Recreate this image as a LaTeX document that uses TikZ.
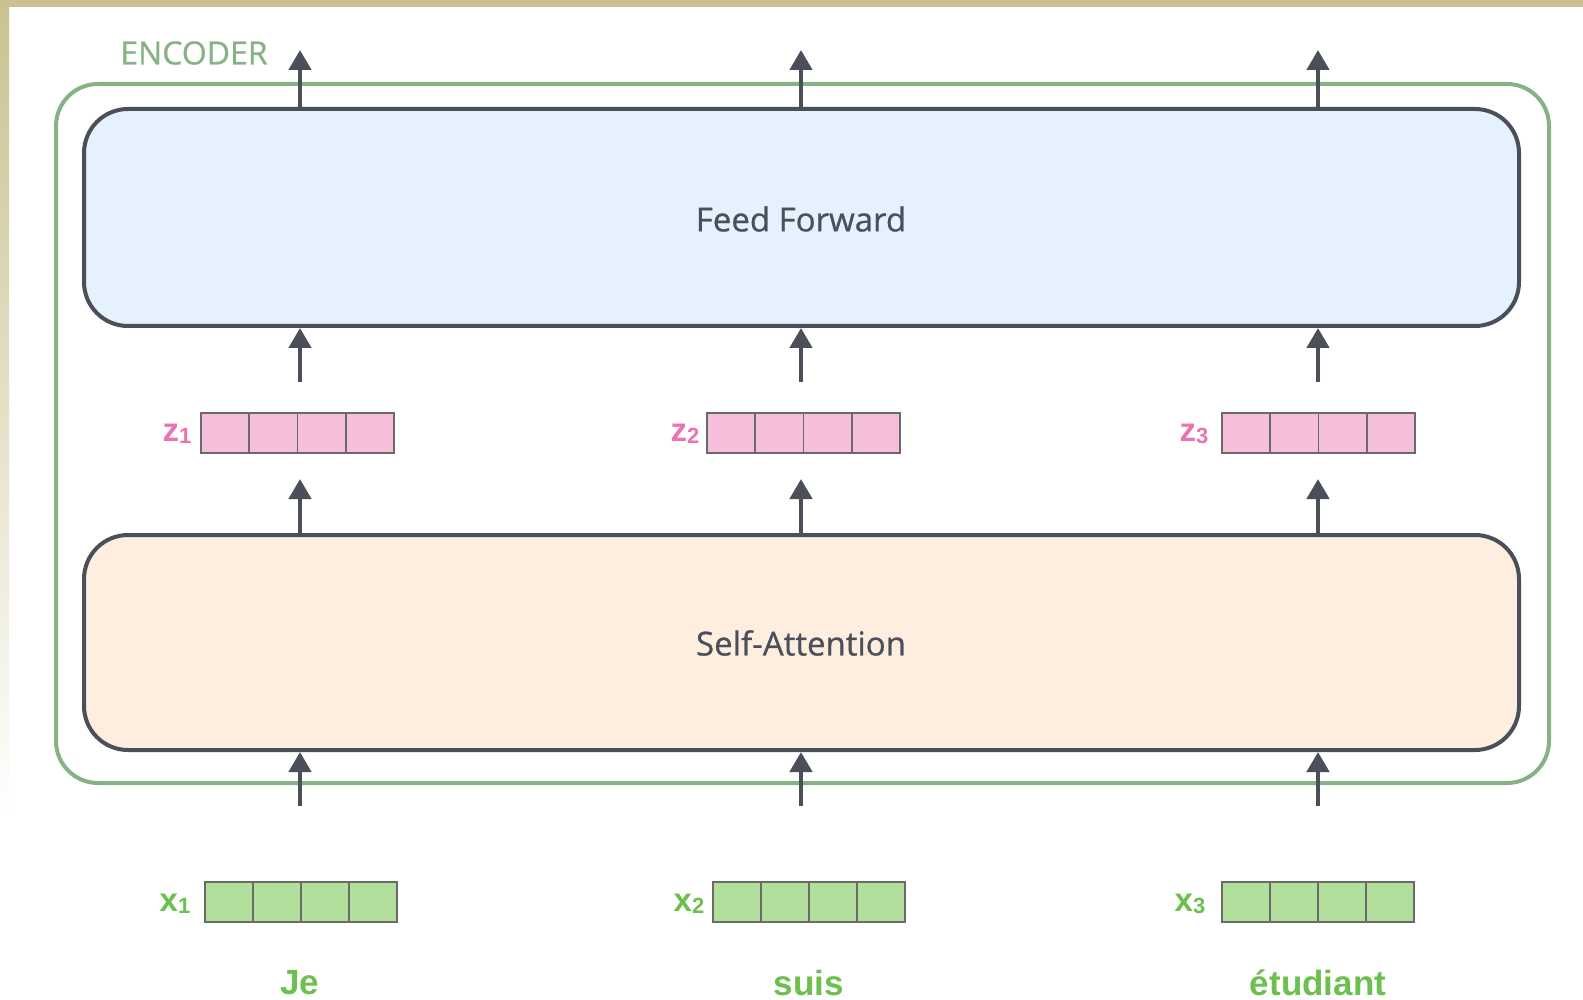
\documentclass[tikz,border=0pt]{standalone}
\usepackage{fontspec}
\setmainfont{Open Sans}
\newfontfamily\boxfont[FakeBold=0.7]{Open Sans}
\newfontfamily\lblfont{Liberation Sans}
\usetikzlibrary{arrows.meta}
\definecolor{khaki}{HTML}{C9C290}
\definecolor{encgreen}{HTML}{86B386}
\definecolor{darkline}{HTML}{4A4F5A}
\definecolor{ffblue}{HTML}{E5F1FD}
\definecolor{sapeach}{HTML}{FEEEE0}
\definecolor{zpink}{HTML}{F5BEDB}
\definecolor{zlabel}{HTML}{EC72B0}
\definecolor{xgreen}{HTML}{B2DE9C}
\definecolor{xlabel}{HTML}{6CC04D}
\definecolor{cellline}{HTML}{6A6A6A}
\tikzset{
  layerbox/.style={draw=darkline, line width=4pt, rounded corners=44pt},
  uparrow/.style={draw=darkline, line width=4.5pt, -{Triangle[length=20pt,width=22pt]}},
  cellz/.style={draw=cellline, line width=1.3pt, fill=zpink, minimum width=48pt, minimum height=40pt, inner sep=0pt},
  cellx/.style={draw=cellline, line width=1.3pt, fill=xgreen, minimum width=48pt, minimum height=40pt, inner sep=0pt},
  zlab/.style={text=zlabel, font=\lblfont\bfseries\fontsize{33}{33}\selectfont},
  xlab/.style={text=xlabel, font=\lblfont\bfseries\fontsize{33}{33}\selectfont},
  word/.style={text=xlabel, font=\lblfont\bfseries\fontsize{35}{36}\selectfont},
  boxtext/.style={text=darkline, font=\boxfont\fontsize{33}{36}\selectfont},
}
\begin{document}
\begin{tikzpicture}[x=1pt,y=-1pt]
\useasboundingbox (0,0) rectangle (1583,1000);
\fill[white] (0,0) rectangle (1583,1000);
% frame bands
\shade[top color=khaki, bottom color=white] (0,0) rectangle (9,820);
\fill[khaki] (0,0) rectangle (1583,7);
% encoder outline
\draw[encgreen, line width=4pt, rounded corners=42pt] (56,84) rectangle (1549,783);
\node[text=encgreen, font=\boxfont\fontsize{32}{33}\selectfont, anchor=center] (enc) at (194,53) {ENCODER};
% layers
\draw[layerbox, fill=ffblue] (84,109) rectangle (1519,326);
\node[boxtext] (ff) at (801,219) {Feed Forward};
\draw[layerbox, fill=sapeach] (84,535) rectangle (1519,750);
\node[boxtext] (sa) at (801,643) {Self-Attention};
% coordinates for arrows
\foreach \i/\cx in {1/300, 2/801, 3/1318}{
  \coordinate (ffT\i) at (\cx,107);
  \coordinate (out\i) at (\cx,50);
  \coordinate (ffB\i) at (\cx,328);
  \coordinate (saT\i) at (\cx,533);
  \coordinate (saB\i) at (\cx,752);
  \coordinate (in\i) at (\cx,806);
}
% z vectors
\foreach \i/\sx/\lx in {1/201/177, 2/707/685, 3/1222/1194}{
  \foreach \k in {0,1,2,3}{
    \node[cellz] (z\i c\k) at ({\sx+24+48.3*\k},433) {};
  }
  \node[zlab] (zl\i) at (\lx,434) {z\raisebox{-2pt}{\fontsize{22}{22}\selectfont\i}};
}
% x vectors
\foreach \i/\sx/\lx in {1/205/175, 2/713/689, 3/1222/1190}{
  \foreach \k in {0,1,2,3}{
    \node[cellx] (x\i c\k) at ({\sx+24+48*\k},902) {};
  }
  \node[xlab] (xl\i) at (\lx,904) {x\raisebox{-2pt}{\fontsize{22}{22}\selectfont\i}};
}
\node[word] (w1) at (300,983) {Je};
\node[word] (w2) at (809,983) {suis};
\node[word] (w3) at (1318,983) {étudiant};
% arrows
\foreach \i in {1,2,3}{
  \draw[uparrow] (ffT\i) -- (out\i);
  \draw[uparrow] ([yshift=-54pt]ffB\i) -- (ffB\i);
  \draw[uparrow] (saT\i) -- ([yshift=54pt]saT\i);
  \draw[uparrow] (in\i) -- (saB\i);
}
\end{tikzpicture}
\end{document}
